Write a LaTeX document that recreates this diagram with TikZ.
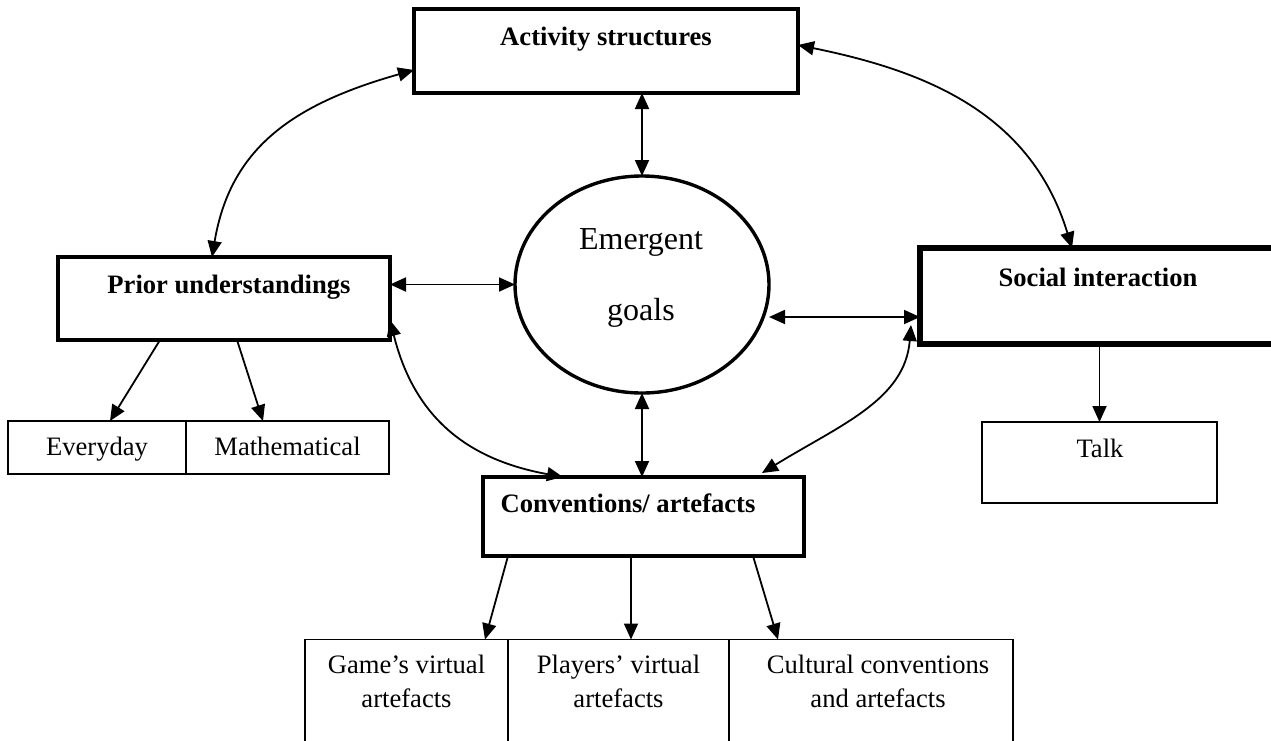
\documentclass[tikz,border=0pt]{standalone}
\usepackage{fontspec}
\setmainfont{Liberation Serif}
\usetikzlibrary{arrows.meta,shapes.geometric}
\begin{document}
\begin{tikzpicture}[x=1pt,y=-1pt,
  >={Triangle[length=16pt,width=14pt]},
  conn/.style={line width=1.8pt},
  box/.style={draw, rectangle, inner sep=0pt, outer sep=0pt},
  thinbox/.style={box, line width=1.7pt},
  txt/.style={anchor=base, inner sep=0pt, font=\fontsize{26.6}{30}\selectfont},
  btxt/.style={txt, font=\fontsize{26.6}{30}\selectfont\bfseries},
  etxt/.style={anchor=base, inner sep=0pt, font=\fontsize{32}{36}\selectfont}]
\useasboundingbox (0,0) rectangle (1271,740);
\clip (0,0) rectangle (1271,740);

% main boxes
\node[box, line width=3.4pt, minimum width=384pt, minimum height=84pt] (act) at (606,51) {};
\node[box, line width=3.8pt, minimum width=332pt, minimum height=83pt] (prior) at (224,298.5) {};
\node[box, line width=5.5pt, minimum width=360pt, minimum height=96pt] (soc) at (1100,296) {};
\node[box, line width=4pt, minimum width=321pt, minimum height=79pt] (conv) at (643.5,516.5) {};
\node[draw, ellipse, line width=3.4pt, inner sep=0pt, outer sep=0pt, minimum width=254pt, minimum height=217pt] (emg) at (642,284.5) {};

% sub boxes
\node[thinbox, minimum width=178pt, minimum height=53pt] (every) at (97,447.5) {};
\node[thinbox, minimum width=203pt, minimum height=53pt] (math) at (287.5,447.5) {};
\node[thinbox, minimum width=235pt, minimum height=81pt] (talk) at (1099.5,462.5) {};
\node[thinbox, minimum width=203pt, minimum height=121pt] (game) at (406.5,700) {};
\node[thinbox, minimum width=221pt, minimum height=121pt] (play) at (618.5,700) {};
\node[thinbox, minimum width=284pt, minimum height=121pt] (cult) at (871,700) {};

% texts
\node[btxt] (actT) at (606,45) {Activity structures};
\node[btxt] (priorT) at (229,293) {Prior understandings};
\node[btxt] (socT) at (1098,286) {Social interaction};
\node[btxt] (convT) at (628,512) {Conventions/ artefacts};
\node[etxt] (emgA) at (641,249) {Emergent};
\node[etxt] (emgB) at (641,320) {goals};
\node[txt] (everyT) at (97,455) {Everyday};
\node[txt] (mathT) at (287.5,455) {Mathematical};
\node[txt] (talkT) at (1100,457) {Talk};
\node[txt] (gameA) at (406.5,673) {Game’s virtual};
\node[txt] (gameB) at (406.5,707) {artefacts};
\node[txt] (playA) at (618.5,673) {Players’ virtual};
\node[txt] (playB) at (618.5,707) {artefacts};
\node[txt] (cultA) at (878,673) {Cultural conventions};
\node[txt] (cultB) at (878,707) {and artefacts};

% connectors
\draw[conn,<->] ([xshift=-12pt]prior.north) .. controls (230,150) and (290,105) .. ([yshift=-19pt]act.west);
\draw[conn,<->] ([yshift=6pt]act.east) .. controls (920,70) and (1030,110) .. ([xshift=-28pt]soc.north);
\draw[conn,<->] (emg.north) -- (emg.north |- act.south);
\draw[conn,<->] (emg.west) -- (emg.west -| prior.east);
\draw[conn,<->] ([yshift=-21pt]soc.west) -- ([yshift=-21pt]soc.west -| emg.east);
\draw[conn,<->] (emg.south) -- (emg.south |- conv.north);
\draw[conn,<->] ([yshift=-21.5pt]prior.east) .. controls (415,420) and (470,460) .. ([xshift=-80.5pt]conv.north);
\draw[conn,<->] ([xshift=-9pt,yshift=-29pt]soc.west) .. controls (905,400) and (840,425) .. ([xshift=118.5pt,yshift=4pt]conv.north);
\draw[conn,->] ([xshift=-64pt]prior.south) -- ([xshift=13pt]every.north);
\draw[conn,->] ([xshift=13pt]prior.south) -- ([xshift=-24.5pt]math.north);
\draw[conn,->] (talk.north |- soc.south) -- (talk.north);
\draw[conn,->] ([xshift=-135.5pt]conv.south) -- ([xshift=78.5pt]game.north);
\draw[conn,->] ([xshift=12.5pt]play.north |- conv.south) -- ([xshift=12.5pt]play.north);
\draw[conn,->] ([xshift=109.5pt]conv.south) -- ([xshift=-93pt]cult.north);
\end{tikzpicture}
\end{document}
